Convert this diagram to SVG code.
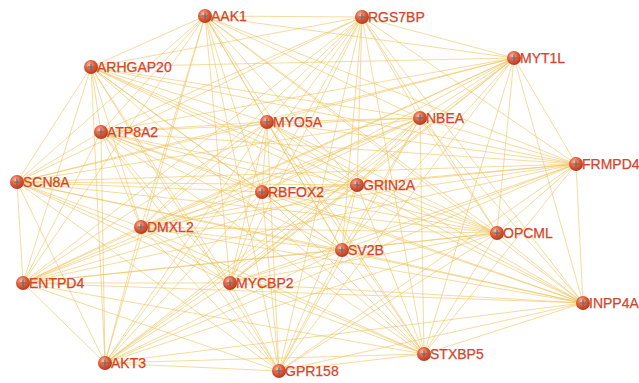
<svg xmlns="http://www.w3.org/2000/svg" width="639" height="383" viewBox="0 0 639 383">
<style>
.e line{stroke:#EFC35C;stroke-opacity:0.6;stroke-width:1}
.n text{font-family:"Liberation Sans",Arial,sans-serif;font-size:14px;fill:#D5442A;stroke:#D5442A;stroke-width:0.25}
.n circle{fill:url(#g)}
.n path{stroke:#6f6462;stroke-width:1.2;fill:none}
</style>
<defs>
<radialGradient id="g" cx="0.4" cy="0.35" r="0.65">
<stop offset="0" stop-color="#FBC3AE"/>
<stop offset="0.5" stop-color="#E0603F"/>
<stop offset="1" stop-color="#B8381F"/>
</radialGradient>
</defs>
<rect width="639" height="383" fill="#fff"/>
<g class="e" id="edges">
<line x1="205" y1="16" x2="362" y2="17"/><line x1="205" y1="16" x2="91" y2="67"/><line x1="205" y1="16" x2="514" y2="58"/><line x1="205" y1="16" x2="101" y2="132"/><line x1="205" y1="16" x2="267" y2="122"/><line x1="205" y1="16" x2="420" y2="118"/><line x1="205" y1="16" x2="576" y2="164"/><line x1="205" y1="16" x2="17" y2="182"/><line x1="205" y1="16" x2="262" y2="192"/><line x1="205" y1="16" x2="357" y2="185"/><line x1="205" y1="16" x2="141" y2="227"/><line x1="205" y1="16" x2="497" y2="233"/><line x1="205" y1="16" x2="342" y2="250"/><line x1="205" y1="16" x2="23" y2="283"/><line x1="205" y1="16" x2="230" y2="283"/><line x1="205" y1="16" x2="583" y2="303"/><line x1="205" y1="16" x2="105" y2="363"/><line x1="205" y1="16" x2="279" y2="371"/><line x1="205" y1="16" x2="424" y2="354"/>
<line x1="362" y1="17" x2="91" y2="67"/><line x1="362" y1="17" x2="514" y2="58"/><line x1="362" y1="17" x2="101" y2="132"/><line x1="362" y1="17" x2="267" y2="122"/><line x1="362" y1="17" x2="420" y2="118"/><line x1="362" y1="17" x2="576" y2="164"/><line x1="362" y1="17" x2="17" y2="182"/><line x1="362" y1="17" x2="262" y2="192"/><line x1="362" y1="17" x2="357" y2="185"/><line x1="362" y1="17" x2="141" y2="227"/><line x1="362" y1="17" x2="497" y2="233"/><line x1="362" y1="17" x2="342" y2="250"/><line x1="362" y1="17" x2="23" y2="283"/><line x1="362" y1="17" x2="230" y2="283"/><line x1="362" y1="17" x2="583" y2="303"/><line x1="362" y1="17" x2="105" y2="363"/><line x1="362" y1="17" x2="279" y2="371"/><line x1="362" y1="17" x2="424" y2="354"/>
<line x1="91" y1="67" x2="514" y2="58"/><line x1="91" y1="67" x2="101" y2="132"/><line x1="91" y1="67" x2="267" y2="122"/><line x1="91" y1="67" x2="420" y2="118"/><line x1="91" y1="67" x2="576" y2="164"/><line x1="91" y1="67" x2="17" y2="182"/><line x1="91" y1="67" x2="262" y2="192"/><line x1="91" y1="67" x2="357" y2="185"/><line x1="91" y1="67" x2="141" y2="227"/><line x1="91" y1="67" x2="497" y2="233"/><line x1="91" y1="67" x2="342" y2="250"/><line x1="91" y1="67" x2="23" y2="283"/><line x1="91" y1="67" x2="230" y2="283"/><line x1="91" y1="67" x2="583" y2="303"/><line x1="91" y1="67" x2="105" y2="363"/><line x1="91" y1="67" x2="279" y2="371"/><line x1="91" y1="67" x2="424" y2="354"/>
<line x1="514" y1="58" x2="101" y2="132"/><line x1="514" y1="58" x2="267" y2="122"/><line x1="514" y1="58" x2="420" y2="118"/><line x1="514" y1="58" x2="576" y2="164"/><line x1="514" y1="58" x2="17" y2="182"/><line x1="514" y1="58" x2="262" y2="192"/><line x1="514" y1="58" x2="357" y2="185"/><line x1="514" y1="58" x2="141" y2="227"/><line x1="514" y1="58" x2="497" y2="233"/><line x1="514" y1="58" x2="342" y2="250"/><line x1="514" y1="58" x2="23" y2="283"/><line x1="514" y1="58" x2="230" y2="283"/><line x1="514" y1="58" x2="583" y2="303"/><line x1="514" y1="58" x2="105" y2="363"/><line x1="514" y1="58" x2="279" y2="371"/><line x1="514" y1="58" x2="424" y2="354"/>
<line x1="101" y1="132" x2="267" y2="122"/><line x1="101" y1="132" x2="420" y2="118"/><line x1="101" y1="132" x2="576" y2="164"/><line x1="101" y1="132" x2="17" y2="182"/><line x1="101" y1="132" x2="262" y2="192"/><line x1="101" y1="132" x2="357" y2="185"/><line x1="101" y1="132" x2="141" y2="227"/><line x1="101" y1="132" x2="497" y2="233"/><line x1="101" y1="132" x2="342" y2="250"/><line x1="101" y1="132" x2="23" y2="283"/><line x1="101" y1="132" x2="230" y2="283"/><line x1="101" y1="132" x2="583" y2="303"/><line x1="101" y1="132" x2="105" y2="363"/><line x1="101" y1="132" x2="279" y2="371"/><line x1="101" y1="132" x2="424" y2="354"/>
<line x1="267" y1="122" x2="420" y2="118"/><line x1="267" y1="122" x2="576" y2="164"/><line x1="267" y1="122" x2="17" y2="182"/><line x1="267" y1="122" x2="262" y2="192"/><line x1="267" y1="122" x2="357" y2="185"/><line x1="267" y1="122" x2="141" y2="227"/><line x1="267" y1="122" x2="497" y2="233"/><line x1="267" y1="122" x2="342" y2="250"/><line x1="267" y1="122" x2="23" y2="283"/><line x1="267" y1="122" x2="230" y2="283"/><line x1="267" y1="122" x2="583" y2="303"/><line x1="267" y1="122" x2="105" y2="363"/><line x1="267" y1="122" x2="279" y2="371"/><line x1="267" y1="122" x2="424" y2="354"/>
<line x1="420" y1="118" x2="576" y2="164"/><line x1="420" y1="118" x2="17" y2="182"/><line x1="420" y1="118" x2="262" y2="192"/><line x1="420" y1="118" x2="357" y2="185"/><line x1="420" y1="118" x2="141" y2="227"/><line x1="420" y1="118" x2="497" y2="233"/><line x1="420" y1="118" x2="342" y2="250"/><line x1="420" y1="118" x2="23" y2="283"/><line x1="420" y1="118" x2="230" y2="283"/><line x1="420" y1="118" x2="583" y2="303"/><line x1="420" y1="118" x2="105" y2="363"/><line x1="420" y1="118" x2="279" y2="371"/><line x1="420" y1="118" x2="424" y2="354"/>
<line x1="576" y1="164" x2="17" y2="182"/><line x1="576" y1="164" x2="262" y2="192"/><line x1="576" y1="164" x2="357" y2="185"/><line x1="576" y1="164" x2="141" y2="227"/><line x1="576" y1="164" x2="497" y2="233"/><line x1="576" y1="164" x2="342" y2="250"/><line x1="576" y1="164" x2="23" y2="283"/><line x1="576" y1="164" x2="230" y2="283"/><line x1="576" y1="164" x2="583" y2="303"/><line x1="576" y1="164" x2="105" y2="363"/><line x1="576" y1="164" x2="279" y2="371"/><line x1="576" y1="164" x2="424" y2="354"/>
<line x1="17" y1="182" x2="262" y2="192"/><line x1="17" y1="182" x2="357" y2="185"/><line x1="17" y1="182" x2="141" y2="227"/><line x1="17" y1="182" x2="497" y2="233"/><line x1="17" y1="182" x2="342" y2="250"/><line x1="17" y1="182" x2="23" y2="283"/><line x1="17" y1="182" x2="230" y2="283"/><line x1="17" y1="182" x2="583" y2="303"/><line x1="17" y1="182" x2="105" y2="363"/><line x1="17" y1="182" x2="279" y2="371"/><line x1="17" y1="182" x2="424" y2="354"/>
<line x1="262" y1="192" x2="357" y2="185"/><line x1="262" y1="192" x2="141" y2="227"/><line x1="262" y1="192" x2="497" y2="233"/><line x1="262" y1="192" x2="342" y2="250"/><line x1="262" y1="192" x2="23" y2="283"/><line x1="262" y1="192" x2="230" y2="283"/><line x1="262" y1="192" x2="583" y2="303"/><line x1="262" y1="192" x2="105" y2="363"/><line x1="262" y1="192" x2="279" y2="371"/><line x1="262" y1="192" x2="424" y2="354"/>
<line x1="357" y1="185" x2="141" y2="227"/><line x1="357" y1="185" x2="497" y2="233"/><line x1="357" y1="185" x2="342" y2="250"/><line x1="357" y1="185" x2="23" y2="283"/><line x1="357" y1="185" x2="230" y2="283"/><line x1="357" y1="185" x2="583" y2="303"/><line x1="357" y1="185" x2="105" y2="363"/><line x1="357" y1="185" x2="279" y2="371"/><line x1="357" y1="185" x2="424" y2="354"/>
<line x1="141" y1="227" x2="497" y2="233"/><line x1="141" y1="227" x2="342" y2="250"/><line x1="141" y1="227" x2="23" y2="283"/><line x1="141" y1="227" x2="230" y2="283"/><line x1="141" y1="227" x2="583" y2="303"/><line x1="141" y1="227" x2="105" y2="363"/><line x1="141" y1="227" x2="279" y2="371"/><line x1="141" y1="227" x2="424" y2="354"/>
<line x1="497" y1="233" x2="342" y2="250"/><line x1="497" y1="233" x2="23" y2="283"/><line x1="497" y1="233" x2="230" y2="283"/><line x1="497" y1="233" x2="583" y2="303"/><line x1="497" y1="233" x2="105" y2="363"/><line x1="497" y1="233" x2="279" y2="371"/><line x1="497" y1="233" x2="424" y2="354"/>
<line x1="342" y1="250" x2="23" y2="283"/><line x1="342" y1="250" x2="230" y2="283"/><line x1="342" y1="250" x2="583" y2="303"/><line x1="342" y1="250" x2="105" y2="363"/><line x1="342" y1="250" x2="279" y2="371"/><line x1="342" y1="250" x2="424" y2="354"/>
<line x1="23" y1="283" x2="230" y2="283"/><line x1="23" y1="283" x2="583" y2="303"/><line x1="23" y1="283" x2="105" y2="363"/><line x1="23" y1="283" x2="279" y2="371"/><line x1="23" y1="283" x2="424" y2="354"/>
<line x1="230" y1="283" x2="583" y2="303"/><line x1="230" y1="283" x2="105" y2="363"/><line x1="230" y1="283" x2="279" y2="371"/><line x1="230" y1="283" x2="424" y2="354"/>
<line x1="583" y1="303" x2="105" y2="363"/><line x1="583" y1="303" x2="279" y2="371"/><line x1="583" y1="303" x2="424" y2="354"/>
<line x1="105" y1="363" x2="279" y2="371"/><line x1="105" y1="363" x2="424" y2="354"/>
<line x1="279" y1="371" x2="424" y2="354"/>
</g>
<g class="n" id="AAK1" transform="translate(205,16)"><circle r="7"/><path d="M-3.5,0H3.5M0,-3.5V3.5"/><text x="6" y="5">AAK1</text></g>
<g class="n" id="RGS7BP" transform="translate(362,17)"><circle r="7"/><path d="M-3.5,0H3.5M0,-3.5V3.5"/><text x="6" y="5">RGS7BP</text></g>
<g class="n" id="ARHGAP20" transform="translate(91,67)"><circle r="7"/><path d="M-3.5,0H3.5M0,-3.5V3.5"/><text x="6" y="5">ARHGAP20</text></g>
<g class="n" id="MYT1L" transform="translate(514,58)"><circle r="7"/><path d="M-3.5,0H3.5M0,-3.5V3.5"/><text x="6" y="5">MYT1L</text></g>
<g class="n" id="ATP8A2" transform="translate(101,132)"><circle r="7"/><path d="M-3.5,0H3.5M0,-3.5V3.5"/><text x="6" y="5">ATP8A2</text></g>
<g class="n" id="MYO5A" transform="translate(267,122)"><circle r="7"/><path d="M-3.5,0H3.5M0,-3.5V3.5"/><text x="6" y="5">MYO5A</text></g>
<g class="n" id="NBEA" transform="translate(420,118)"><circle r="7"/><path d="M-3.5,0H3.5M0,-3.5V3.5"/><text x="6" y="5">NBEA</text></g>
<g class="n" id="FRMPD4" transform="translate(576,164)"><circle r="7"/><path d="M-3.5,0H3.5M0,-3.5V3.5"/><text x="6" y="5">FRMPD4</text></g>
<g class="n" id="SCN8A" transform="translate(17,182)"><circle r="7"/><path d="M-3.5,0H3.5M0,-3.5V3.5"/><text x="6" y="5">SCN8A</text></g>
<g class="n" id="RBFOX2" transform="translate(262,192)"><circle r="7"/><path d="M-3.5,0H3.5M0,-3.5V3.5"/><text x="6" y="5">RBFOX2</text></g>
<g class="n" id="GRIN2A" transform="translate(357,185)"><circle r="7"/><path d="M-3.5,0H3.5M0,-3.5V3.5"/><text x="6" y="5">GRIN2A</text></g>
<g class="n" id="DMXL2" transform="translate(141,227)"><circle r="7"/><path d="M-3.5,0H3.5M0,-3.5V3.5"/><text x="6" y="5">DMXL2</text></g>
<g class="n" id="OPCML" transform="translate(497,233)"><circle r="7"/><path d="M-3.5,0H3.5M0,-3.5V3.5"/><text x="6" y="5">OPCML</text></g>
<g class="n" id="SV2B" transform="translate(342,250)"><circle r="7"/><path d="M-3.5,0H3.5M0,-3.5V3.5"/><text x="6" y="5">SV2B</text></g>
<g class="n" id="ENTPD4" transform="translate(23,283)"><circle r="7"/><path d="M-3.5,0H3.5M0,-3.5V3.5"/><text x="6" y="5">ENTPD4</text></g>
<g class="n" id="MYCBP2" transform="translate(230,283)"><circle r="7"/><path d="M-3.5,0H3.5M0,-3.5V3.5"/><text x="6" y="5">MYCBP2</text></g>
<g class="n" id="INPP4A" transform="translate(583,303)"><circle r="7"/><path d="M-3.5,0H3.5M0,-3.5V3.5"/><text x="6" y="5">INPP4A</text></g>
<g class="n" id="AKT3" transform="translate(105,363)"><circle r="7"/><path d="M-3.5,0H3.5M0,-3.5V3.5"/><text x="6" y="5">AKT3</text></g>
<g class="n" id="GPR158" transform="translate(279,371)"><circle r="7"/><path d="M-3.5,0H3.5M0,-3.5V3.5"/><text x="6" y="5">GPR158</text></g>
<g class="n" id="STXBP5" transform="translate(424,354)"><circle r="7"/><path d="M-3.5,0H3.5M0,-3.5V3.5"/><text x="6" y="5">STXBP5</text></g>
</svg>
